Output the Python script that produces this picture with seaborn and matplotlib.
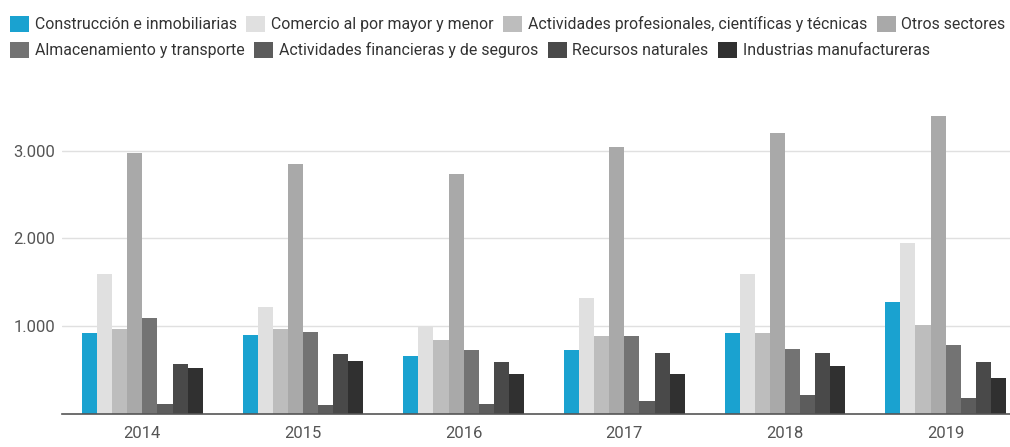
import matplotlib
matplotlib.use("Agg")
import matplotlib.pyplot as plt
import matplotlib.ticker as mticker
from matplotlib.patches import Patch
import seaborn as sns
import pandas as pd

years = ["2014", "2015", "2016", "2017", "2018", "2019"]
sectors = [
    "Construcción e inmobiliarias",
    "Comercio al por mayor y menor",
    "Actividades profesionales, científicas y técnicas",
    "Otros sectores",
    "Almacenamiento y transporte",
    "Actividades financieras y de seguros",
    "Recursos naturales",
    "Industrias manufactureras",
]
construccion = [918, 899, 660, 728, 918, 1274]
comercio = [1593, 1221, 990, 1320, 1593, 1946]
profesionales = [967, 967, 838, 884, 918, 1013]
otros = [2978, 2849, 2735, 3038, 3201, 3395]
almacenamiento = [1092, 933, 724, 884, 740, 789]
financieras = [114, 102, 114, 144, 212, 178]
recursos = [565, 679, 595, 690, 690, 595]
industrias = [520, 599, 451, 451, 546, 406]
colors = ["#1aa2d0", "#e0e0e0", "#bdbdbd", "#a9a9a9", "#737373", "#5c5c5c", "#494949", "#303030"]

series = [construccion, comercio, profesionales, otros, almacenamiento, financieras, recursos, industrias]
rows = []
for s, vals in zip(sectors, series):
    for y, v in zip(years, vals):
        rows.append({"year": y, "sector": s, "value": v})
df = pd.DataFrame(rows)

sns.set_theme(style="white")
plt.rcParams["font.family"] = ["Roboto", "DejaVu Sans"]

fig = plt.figure(figsize=(10.10, 4.47), dpi=100)
ax = fig.add_axes([62 / 1010, 1 - 414 / 447, 964 / 1010, (414 - 106.7) / 447])
sns.barplot(data=df, x="year", y="value", hue="sector", hue_order=sectors,
            palette=colors, order=years, width=0.753, linewidth=0, saturation=1,
            errorbar=None, ax=ax, legend=False)
ax.set_ylim(0, 3500)
ax.set_xlim(-0.5, 5.5)
ax.set_yticks([1000, 2000, 3000])
ax.yaxis.set_major_formatter(mticker.FuncFormatter(lambda v, p: f"{int(v):,}".replace(",", ".")))
ax.grid(axis="y", color="#e0e0e0", linewidth=1)
ax.set_axisbelow(True)
for sp in ["top", "right", "left"]:
    ax.spines[sp].set_visible(False)
ax.spines["bottom"].set_color("#555555")
ax.spines["bottom"].set_linewidth(1.2)
ax.set_xlabel("")
ax.set_ylabel("")
ax.tick_params(axis="both", length=0, labelsize=12, labelcolor="#555555")
ax.tick_params(axis="x", pad=9)
ax.tick_params(axis="y", pad=5)

handles = [Patch(facecolor=c, edgecolor="none") for c in colors]
kw = dict(loc="upper left", frameon=False, fontsize=11.4, handlelength=1.2,
          handleheight=1.2, handletextpad=0.35, columnspacing=0.62, borderaxespad=0,
          labelcolor="#333333", borderpad=0)
fig.legend(handles[:4], sectors[:4], ncol=4, bbox_to_anchor=(10 / 1010, 1 - 16 / 447), **kw)
fig.legend(handles[4:], sectors[4:], ncol=4, bbox_to_anchor=(10 / 1010, 1 - 42 / 447), **kw)

fig.savefig("out.png", dpi=100)
